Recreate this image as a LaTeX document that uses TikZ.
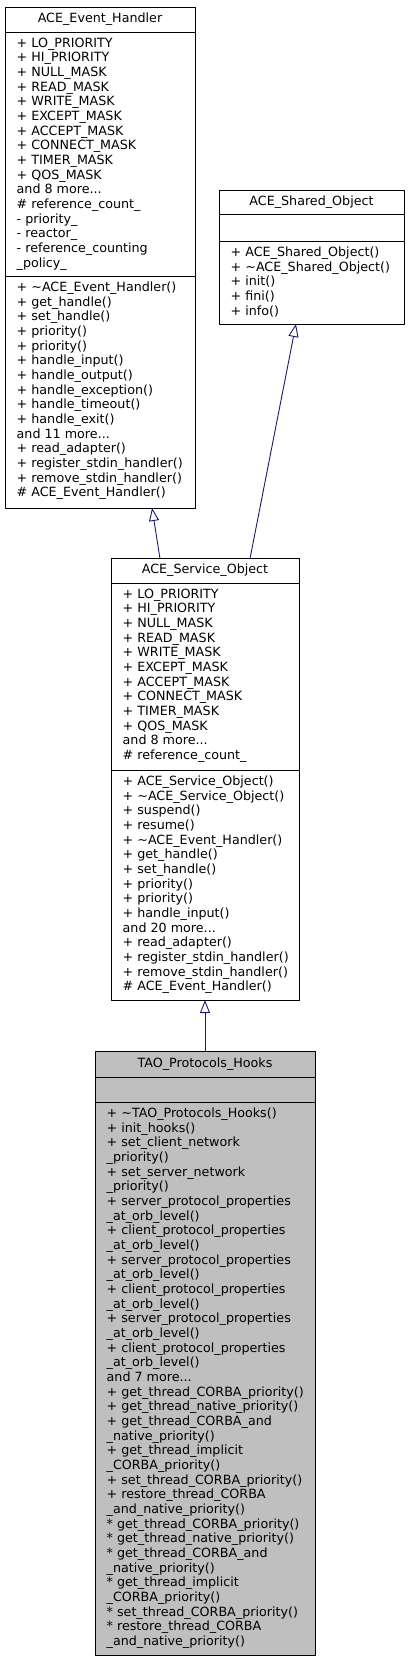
\documentclass[tikz,border=0pt]{standalone}
\usepackage{fontspec}
\newfontfamily\umlfont{DejaVu Sans}
\usetikzlibrary{positioning,calc,arrows.meta}
\definecolor{edgeblue}{HTML}{191970}
\definecolor{hookgray}{HTML}{BFBFBF}
\tikzset{
  cell/.style={draw=black, line width=0.9pt, rectangle, inner sep=0pt, outer sep=0pt, anchor=north},
  members/.style={anchor=north west, inner sep=0pt, align=left, execute at begin node=\strut},
  inherit/.style={draw=edgeblue, line width=0.9pt, -{Triangle[open, length=13pt, width=10pt]}}
}
\begin{document}
\begin{tikzpicture}[x=1pt, y=-1pt, line join=round, font=\umlfont\fontsize{12.7}{14.67}\selectfont]
  \useasboundingbox (0,0) rectangle (409,1661);

  % ACE_Event_Handler
  \node[cell, anchor=north west, minimum width=190pt, minimum height=25pt] (evtT) at (5,7) {ACE\_Event\_Handler};
  \node[cell, minimum width=190pt, minimum height=244pt, below=0pt of evtT] (evtA) {};
  \node[cell, minimum width=190pt, minimum height=232pt, below=0pt of evtA] (evtO) {};
  \node[members] (evtAtxt) at ([shift={(11.5,5.5)}]evtA.north west) {%
    + LO\_PRIORITY\\ + HI\_PRIORITY\\ + NULL\_MASK\\ + READ\_MASK\\ + WRITE\_MASK\\
    + EXCEPT\_MASK\\ + ACCEPT\_MASK\\ + CONNECT\_MASK\\ + TIMER\_MASK\\ + QOS\_MASK\\
    and 8 more...\\ \# reference\_count\_\\ - priority\_\\ - reactor\_\\
    - reference\_counting\\ \_policy\_};
  \node[members] (evtOtxt) at ([shift={(11.5,5.5)}]evtO.north west) {%
    + \textasciitilde ACE\_Event\_Handler()\\ + get\_handle()\\ + set\_handle()\\
    + priority()\\ + priority()\\ + handle\_input()\\ + handle\_output()\\
    + handle\_exception()\\ + handle\_timeout()\\ + handle\_exit()\\ and 11 more...\\
    + read\_adapter()\\ + register\_stdin\_handler()\\ + remove\_stdin\_handler()\\
    \# ACE\_Event\_Handler()};

  % ACE_Shared_Object
  \node[cell, anchor=north west, minimum width=185pt, minimum height=24pt] (shrT) at (219,190) {ACE\_Shared\_Object};
  \node[cell, minimum width=185pt, minimum height=27pt, below=0pt of shrT] (shrA) {};
  \node[cell, minimum width=185pt, minimum height=83pt, below=0pt of shrA] (shrO) {};
  \node[members] (shrOtxt) at ([shift={(11.5,5.5)}]shrO.north west) {%
    + ACE\_Shared\_Object()\\ + \textasciitilde ACE\_Shared\_Object()\\ + init()\\
    + fini()\\ + info()};

  % ACE_Service_Object
  \node[cell, anchor=north west, minimum width=188pt, minimum height=25pt] (svcT) at (111,558) {ACE\_Service\_Object};
  \node[cell, minimum width=188pt, minimum height=187pt, below=0pt of svcT] (svcA) {};
  \node[cell, minimum width=188pt, minimum height=230pt, below=0pt of svcA] (svcO) {};
  \node[members] (svcAtxt) at ([shift={(11.5,5.5)}]svcA.north west) {%
    + LO\_PRIORITY\\ + HI\_PRIORITY\\ + NULL\_MASK\\ + READ\_MASK\\ + WRITE\_MASK\\
    + EXCEPT\_MASK\\ + ACCEPT\_MASK\\ + CONNECT\_MASK\\ + TIMER\_MASK\\ + QOS\_MASK\\
    and 8 more...\\ \# reference\_count\_};
  \node[members] (svcOtxt) at ([shift={(11.5,5.5)}]svcO.north west) {%
    + ACE\_Service\_Object()\\ + \textasciitilde ACE\_Service\_Object()\\ + suspend()\\
    + resume()\\ + \textasciitilde ACE\_Event\_Handler()\\ + get\_handle()\\ + set\_handle()\\
    + priority()\\ + priority()\\ + handle\_input()\\ and 20 more...\\
    + read\_adapter()\\ + register\_stdin\_handler()\\ + remove\_stdin\_handler()\\
    \# ACE\_Event\_Handler()};

  % TAO_Protocols_Hooks
  \node[cell, fill=hookgray, anchor=north west, minimum width=220pt, minimum height=26pt] (hooksT) at (95,1051) {TAO\_Protocols\_Hooks};
  \node[cell, fill=hookgray, minimum width=220pt, minimum height=25pt, below=0pt of hooksT] (hooksA) {};
  \node[cell, fill=hookgray, minimum width=220pt, minimum height=553pt, below=0pt of hooksA] (hooksO) {};
  \node[members] (hooksOtxt) at ([shift={(11.5,5.5)}]hooksO.north west) {%
    + \textasciitilde TAO\_Protocols\_Hooks()\\ + init\_hooks()\\
    + set\_client\_network\\ \_priority()\\ + set\_server\_network\\ \_priority()\\
    + server\_protocol\_properties\\ \_at\_orb\_level()\\
    + client\_protocol\_properties\\ \_at\_orb\_level()\\
    + server\_protocol\_properties\\ \_at\_orb\_level()\\
    + client\_protocol\_properties\\ \_at\_orb\_level()\\
    + server\_protocol\_properties\\ \_at\_orb\_level()\\
    + client\_protocol\_properties\\ \_at\_orb\_level()\\
    and 7 more...\\
    + get\_thread\_CORBA\_priority()\\ + get\_thread\_native\_priority()\\
    + get\_thread\_CORBA\_and\\ \_native\_priority()\\
    + get\_thread\_implicit\\ \_CORBA\_priority()\\
    + set\_thread\_CORBA\_priority()\\
    + restore\_thread\_CORBA\\ \_and\_native\_priority()\\
    * get\_thread\_CORBA\_priority()\\ * get\_thread\_native\_priority()\\
    * get\_thread\_CORBA\_and\\ \_native\_priority()\\
    * get\_thread\_implicit\\ \_CORBA\_priority()\\
    * set\_thread\_CORBA\_priority()\\
    * restore\_thread\_CORBA\\ \_and\_native\_priority()};

  % inheritance
  \draw[inherit] ($(svcT.north west)!0.26!(svcT.north east)$) -- ($(evtO.south west)!0.774!(evtO.south east)$);
  \draw[inherit] ($(svcT.north west)!0.74!(svcT.north east)$) -- ($(shrO.south west)!0.416!(shrO.south east)$);
  \draw[inherit] (hooksT.north) -- (svcO.south);
\end{tikzpicture}
\end{document}
